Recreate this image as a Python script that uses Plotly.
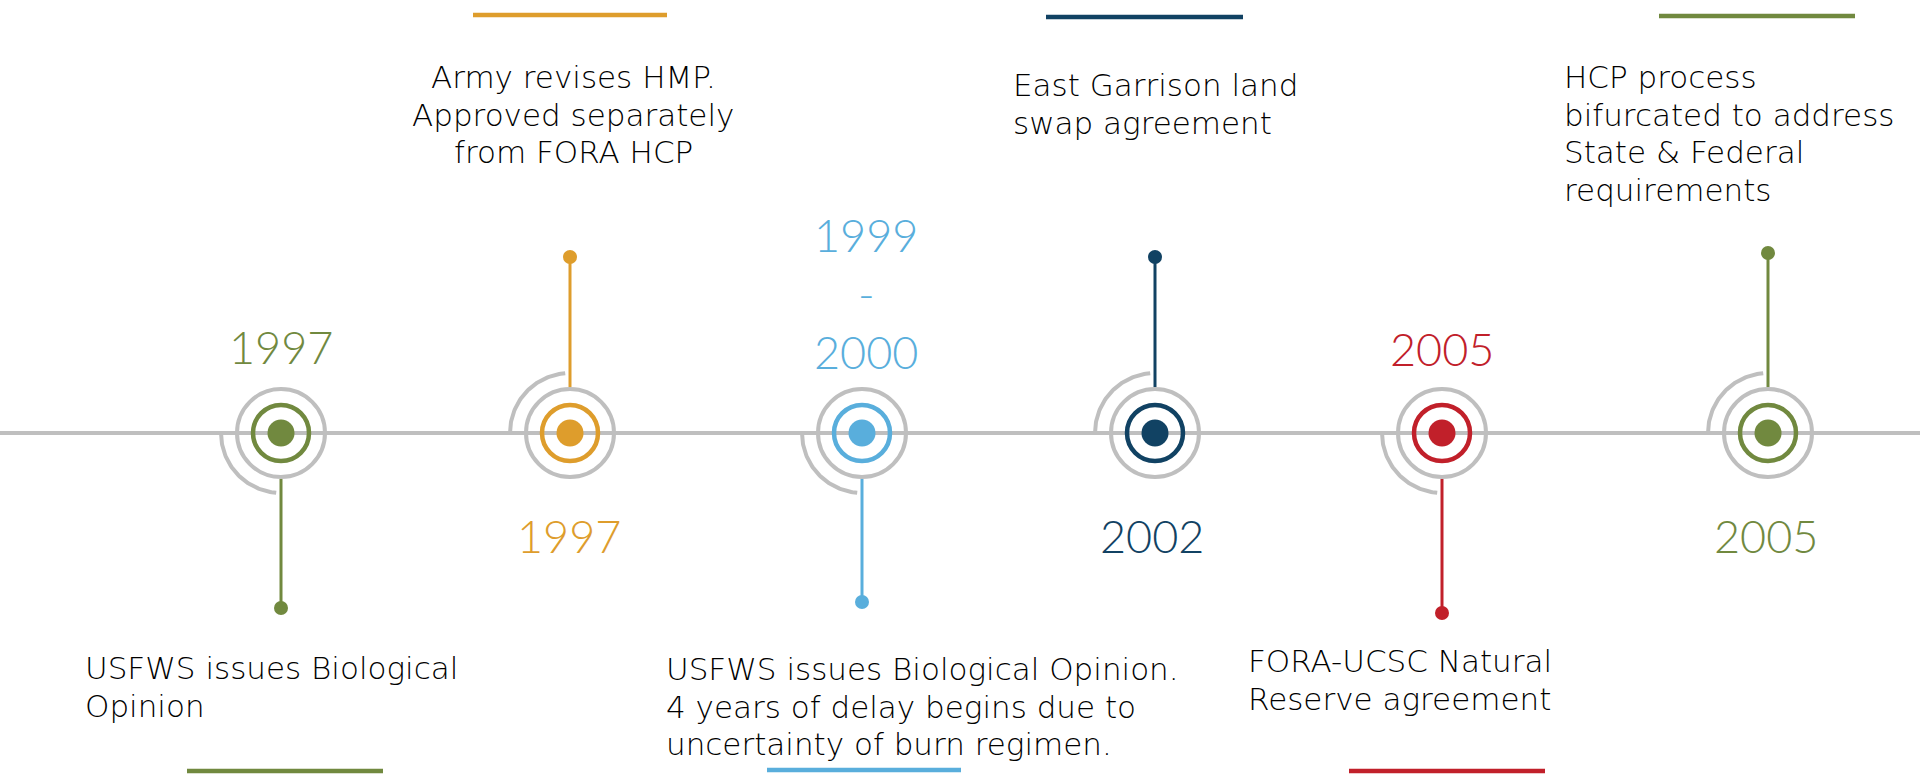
import numpy as np
import plotly.graph_objects as go

# ---------------- data ----------------
year_labels = ["1997", "1997", "1999<br>-<br>2000", "2002", "2005", "2005"]
event_texts = [
    "USFWS issues Biological<br>Opinion",
    "Army revises HMP.<br>Approved separately<br>from FORA HCP",
    "USFWS issues Biological Opinion.<br>4 years of delay begins due to<br>uncertainty of burn regimen.",
    "East Garrison land<br>swap agreement",
    "FORA-UCSC Natural<br>Reserve agreement",
    "HCP process<br>bifurcated to address<br>State &amp; Federal<br>requirements",
]
stem_side = ["down", "up", "down", "up", "down", "up"]

# ---------------- styles / layout ----------------
W, H = 1920, 774
colors = ["#71893F", "#DE9D2C", "#59AEDC", "#114263", "#C1202A", "#71893F"]
GRAY = "#BFBFBF"
LINE_Y = 433
node_x = [281, 570, 862, 1155, 1442, 1768]
stem_end_y = [608, 257, 602, 257, 613, 253]
year_pos = [(281, 347), (569, 536), (866, 293), (1152, 536), (1442, 349), (1766, 536)]
# (x, first line y, alignment)
text_pos = [(82.5, 668, "left"), (573, 77, "center"), (664, 669, "left"),
            (1010.5, 85, "left"), (1246, 661, "left"), (1561.5, 77, "left")]
TEXT_LINE_GAP = 37.7
deco_lines = [(187, 383, 771, 0), (473, 667, 15, 1), (767, 961, 770, 2),
              (1046, 1243, 17, 3), (1349, 1545, 771, 4), (1659, 1855, 16, 5)]

R_OUT, R_RING, R_DOT, R_ARC = 44, 28, 13.5, 60

fig = go.Figure()
shapes = []

# timeline
shapes.append(dict(type="line", x0=0, x1=W, y0=LINE_Y, y1=LINE_Y,
                   line=dict(color=GRAY, width=4), layer="below"))

for i, cx in enumerate(node_x):
    c = colors[i]
    up = stem_side[i] == "up"
    # quarter arc
    if up:
        th = np.linspace(np.pi, 1.5 * np.pi - 0.08, 60)
    else:
        th = np.linspace(np.pi, 0.5 * np.pi + 0.08, 60)
    fig.add_trace(go.Scatter(x=cx + R_ARC * np.cos(th), y=LINE_Y + R_ARC * np.sin(th),
                             mode="lines", line=dict(color=GRAY, width=4),
                             hoverinfo="skip", showlegend=False))
    # outer gray ring
    shapes.append(dict(type="circle", x0=cx - R_OUT, x1=cx + R_OUT,
                       y0=LINE_Y - R_OUT, y1=LINE_Y + R_OUT,
                       line=dict(color=GRAY, width=4)))
    # colored ring
    shapes.append(dict(type="circle", x0=cx - R_RING, x1=cx + R_RING,
                       y0=LINE_Y - R_RING, y1=LINE_Y + R_RING,
                       line=dict(color=c, width=4.5)))
    # center dot
    shapes.append(dict(type="circle", x0=cx - R_DOT, x1=cx + R_DOT,
                       y0=LINE_Y - R_DOT, y1=LINE_Y + R_DOT,
                       fillcolor=c, line=dict(width=0)))
    # stem
    y_start = LINE_Y - R_OUT - 2 if up else LINE_Y + R_OUT + 2
    shapes.append(dict(type="line", x0=cx, x1=cx, y0=y_start, y1=stem_end_y[i],
                       line=dict(color=c, width=3)))
    fig.add_trace(go.Scatter(x=[cx], y=[stem_end_y[i]], mode="markers",
                             marker=dict(color=c, size=14, line=dict(width=0)),
                             hoverinfo="skip", showlegend=False))

# decorative short bars
for x0, x1, y, ci in deco_lines:
    shapes.append(dict(type="line", x0=x0, x1=x1, y0=y, y1=y,
                       line=dict(color=colors[ci], width=4.5)))

annotations = []
for i, (x, y) in enumerate(year_pos):
    annotations.append(dict(x=x, y=y, text=year_labels[i], showarrow=False,
                            xanchor="center", yanchor="middle", align="center",
                            font=dict(family="Lato", size=45, color=colors[i], weight=300)))
for i, (x, y0, al) in enumerate(text_pos):
    for k, line in enumerate(event_texts[i].split("<br>")):
        annotations.append(dict(x=x, y=y0 + k * TEXT_LINE_GAP, text=line, showarrow=False,
                                xanchor=al, yanchor="middle", align=al,
                                font=dict(family="DejaVu Sans", size=31,
                                          color="#000000", weight=200)))

fig.update_layout(
    width=W, height=H, margin=dict(l=0, r=0, t=0, b=0),
    paper_bgcolor="white", plot_bgcolor="white",
    xaxis=dict(range=[0, W], visible=False, fixedrange=True),
    yaxis=dict(range=[H, 0], visible=False, fixedrange=True),
    shapes=shapes, annotations=annotations, showlegend=False,
)

fig.write_html("out.html", config={"displayModeBar": False},
               post_script="document.body.style.margin='0';document.body.style.overflow='hidden';")
